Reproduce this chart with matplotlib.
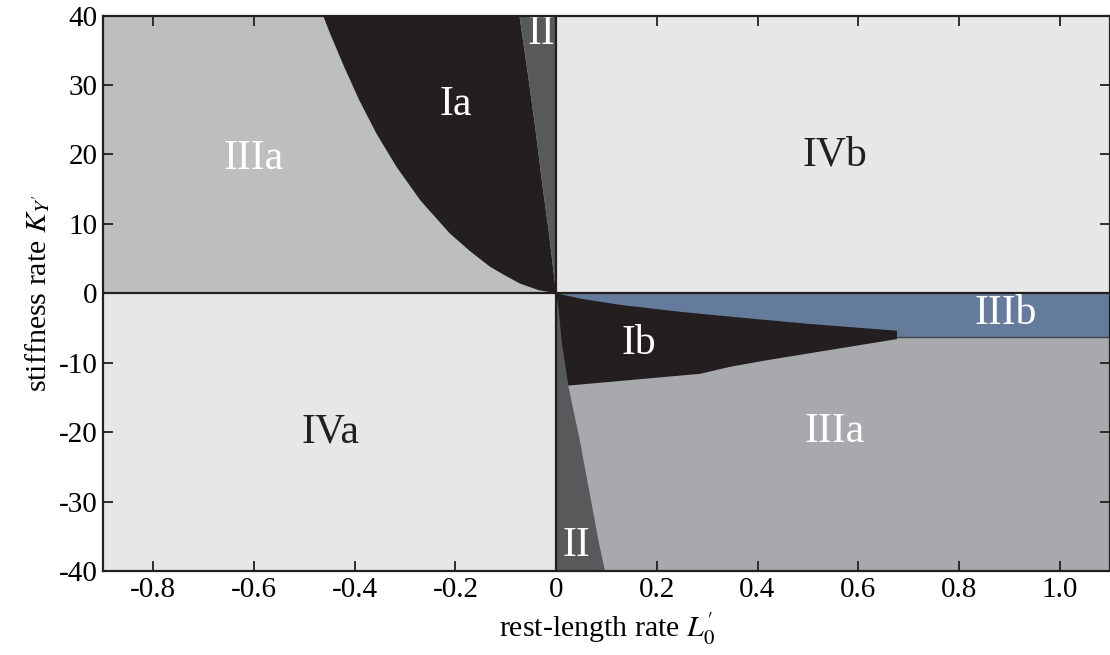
import matplotlib
matplotlib.use("Agg")
import matplotlib.pyplot as plt
from matplotlib.patches import Polygon

plt.rcParams['font.family'] = ['Liberation Serif', 'DejaVu Serif']
plt.rcParams['mathtext.fontset'] = 'stix'
plt.rcParams['axes.unicode_minus'] = False

# ---- data ----
xlim = (-0.9, 1.1)
ylim = (-40, 40)
xticks = [-0.8, -0.6, -0.4, -0.2, 0, 0.2, 0.4, 0.6, 0.8, 1.0]
xticklabels = ["-0.8", "-0.6", "-0.4", "-0.2", "0", "0.2", "0.4", "0.6", "0.8", "1.0"]
yticks = [-40, -30, -20, -10, 0, 10, 20, 30, 40]
yticklabels = ["-40", "-30", "-20", "-10", "0", "10", "20", "30", "40"]

# Ia left boundary (curve from top down to origin)
ia_left_x = [-0.463, -0.449, -0.421, -0.391, -0.357, -0.317, -0.270, -0.211, -0.170, -0.131, -0.100, -0.072, -0.035, 0.0]
ia_left_y = [40, 37.4, 32.6, 27.8, 23.0, 18.2, 13.4, 8.6, 6.0, 3.8, 2.5, 1.4, 0.45, 0.0]
# Ia right boundary / II left boundary (upper half)
ii_up_x = [-0.073, -0.055, -0.040, -0.028, -0.015, -0.005, 0.0]
ii_up_y = [40, 31, 23, 16, 9, 3, 0]
# II lower right boundary
ii_lo_x = [0.0, 0.005, 0.011, 0.024, 0.047, 0.084, 0.097]
ii_lo_y = [0.0, -2.4, -7.25, -13.3, -21.2, -35.6, -40]
# Ib top boundary (origin -> tip)
ib_top_x = [0.0, 0.05, 0.13, 0.25, 0.35, 0.50, 0.677]
ib_top_y = [0.0, -0.8, -1.7, -2.7, -3.4, -4.4, -5.4]
# Ib bottom boundary (tip -> left)
ib_bot_x = [0.677, 0.418, 0.345, 0.286, 0.024]
ib_bot_y = [-6.6, -9.65, -10.6, -11.6, -13.3]
# Ib left edge (bottom -> origin)
ib_left_x = [0.024, 0.011, 0.005, 0.0]
ib_left_y = [-13.3, -7.25, -2.4, 0.0]
# IIIb / IIIa boundary
iiib_y = -6.3
iiib_x_start = 0.677

labels = ["Ia", "II", "IIIa", "IVb", "IIIb", "Ib", "IVa", "IIIa", "II"]
label_x = [-0.20, -0.030, -0.60, 0.554, 0.892, 0.164, -0.449, 0.554, 0.041]
label_y = [27.1, 37.4, 19.4, 19.9, -2.9, -7.25, -20.0, -20.0, -36.3]
label_color = ["white", "white", "white", "#231f20", "white", "white", "#231f20", "white", "white"]

# colours
c_iv = "#e6e7e8"
c_iiia_up = "#bcbec0"
c_iiia_lo = "#a7a9ac"
c_black = "#231f20"
c_ii = "#58595b"
c_iiib = "#657b9b"

fig = plt.figure(figsize=(11.1, 6.55), dpi=100)
ax = fig.add_axes([103/1110, 84/655, 1007/1110, 555.5/655])
ax.set_xlim(*xlim)
ax.set_ylim(*ylim)

def poly(xs, ys, color, z=1):
    ax.add_patch(Polygon(list(zip(xs, ys)), closed=True, facecolor=color,
                         edgecolor='none', zorder=z))

x0, x1 = xlim
y0, y1 = ylim
# quadrants
poly([x0, 0, 0, x0], [0, 0, y1, y1], c_iiia_up)
poly([0, x1, x1, 0], [0, 0, y1, y1], c_iv)
poly([x0, 0, 0, x0], [y0, y0, 0, 0], c_iv)
poly([0, x1, x1, 0], [iiib_y, iiib_y, 0, 0], c_iiib)
poly([0, x1, x1, 0], [y0, y0, iiib_y, iiib_y], c_iiia_lo)

# Ia
xs = ia_left_x + ii_up_x[::-1]
ys = ia_left_y + ii_up_y[::-1]
poly(xs, ys, c_black, 2)
# II upper
poly(ii_up_x + [0.0], ii_up_y + [40], c_ii, 2)
# II lower
poly(ii_lo_x + [0.0], ii_lo_y + [-40], c_ii, 2)
# Ib
poly(ib_top_x + ib_bot_x + ib_left_x, ib_top_y + ib_bot_y + ib_left_y, c_black, 3)

# lines
ax.axhline(0, color=c_black, lw=1.6, zorder=4)
ax.axvline(0, color=c_black, lw=1.6, zorder=4)
ax.plot([iiib_x_start, x1], [iiib_y, iiib_y], color="#414042", lw=1.0, zorder=4)

for t, x, y, c in zip(labels, label_x, label_y, label_color):
    ax.text(x, y, t, color=c, fontsize=30, ha='center', va='center', zorder=5)

ax.set_xticks(xticks)
ax.set_xticklabels(xticklabels)
ax.set_yticks(yticks)
ax.set_yticklabels(yticklabels)
ax.tick_params(direction='in', top=True, right=True, length=7, width=1.3,
               labelsize=21, color=c_black, pad=4)
for s in ax.spines.values():
    s.set_linewidth(1.6)
    s.set_color(c_black)
    s.set_zorder(6)

ax.set_xlabel(r"rest-length rate $L^{\prime}_{\mathit{0}}$", fontsize=21.5, labelpad=6)
ax.set_ylabel(r"stiffness rate $K_{Y^{\prime}}$", fontsize=21.5, labelpad=5)

fig.savefig("out.png", dpi=100)
